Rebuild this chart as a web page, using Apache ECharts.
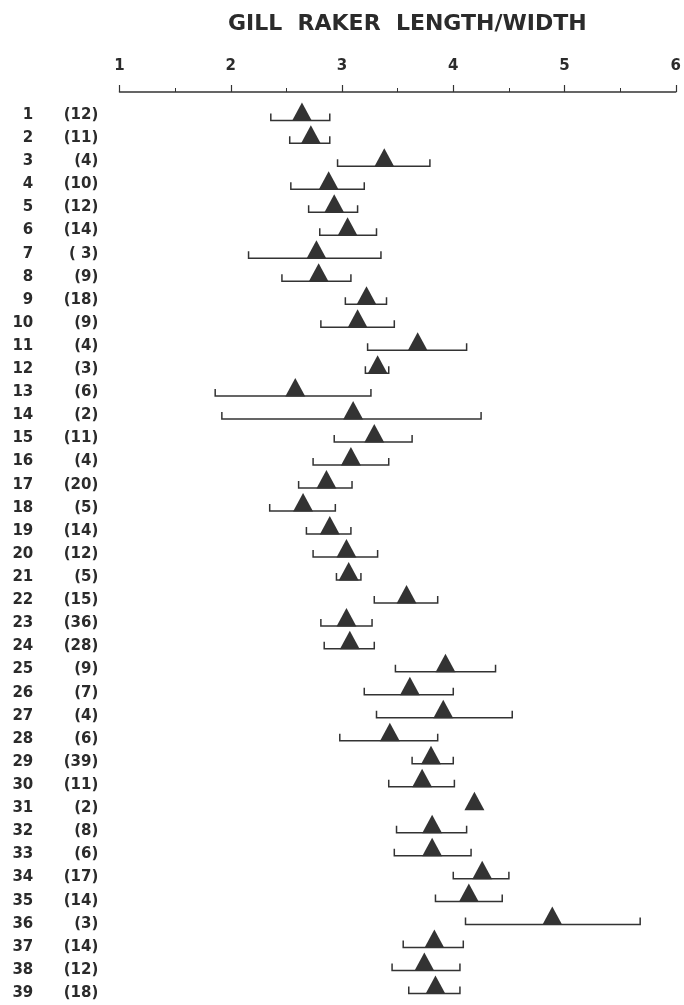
<!DOCTYPE html>
<html>
<head>
<meta charset="utf-8">
<script src="https://cdn.jsdelivr.net/npm/echarts@6/dist/echarts.min.js"></script>
<style>
  html, body { margin: 0; padding: 0; background: #ffffff; }
  #chart { width: 684px; height: 1005px; }
</style>
</head>
<body>
<div id="chart"></div>
<script>
// ---- data ----
var rowLabels = ['1','2','3','4','5','6','7','8','9','10','11','12','13','14','15','16','17','18','19','20',
  '21','22','23','24','25','26','27','28','29','30','31','32','33','34','35','36','37','38','39'];
var countLabels = ['(12)','(11)','(4)','(10)','(12)','(14)','( 3)','(9)','(18)','(9)','(4)','(3)','(6)','(2)','(11)','(4)','(20)','(5)','(14)','(12)',
  '(5)','(15)','(36)','(28)','(9)','(7)','(4)','(6)','(39)','(11)','(2)','(8)','(6)','(17)','(14)','(3)','(14)','(12)','(18)'];
var meanValues = [2.64,2.72,3.38,2.88,2.93,3.05,2.77,2.79,3.22,3.14,3.68,3.32,2.58,3.10,3.29,3.08,2.86,2.65,2.89,3.04,
  3.06,3.58,3.04,3.07,3.93,3.61,3.91,3.43,3.80,3.72,4.19,3.81,3.81,4.26,4.14,4.89,3.83,3.74,3.84];
var lowValues = [2.36,2.53,2.96,2.54,2.70,2.80,2.16,2.46,3.03,2.81,3.23,3.21,1.86,1.92,2.93,2.74,2.61,2.35,2.68,2.74,
  2.95,3.29,2.81,2.84,3.48,3.20,3.31,2.98,3.63,3.42,null,3.49,3.47,4.00,3.84,4.11,3.55,3.45,3.60];
var highValues = [2.89,2.89,3.79,3.20,3.14,3.31,3.35,3.08,3.40,3.47,4.12,3.42,3.26,4.25,3.63,3.42,3.09,2.94,3.08,3.32,
  3.17,3.86,3.27,3.29,4.38,4.00,4.53,3.86,4.00,4.01,null,4.12,4.16,4.50,4.44,5.68,4.09,4.06,4.06];
var xTicks = [1,2,3,4,5,6];
var titleText = 'GILL  RAKER  LENGTH/WIDTH';

var seriesData = meanValues.map(function (m, i) {
  return [m, i, lowValues[i] == null ? '-' : lowValues[i], highValues[i] == null ? '-' : highValues[i]];
});

var ink = '#2b2b2b';
var font = 'DejaVu Sans';

function renderItem(params, api) {
  var cat = api.value(1);
  var pm = api.coord([api.value(0), cat]);
  var lo = api.value(2), hi = api.value(3);
  var children = [];
  if (!isNaN(lo) && !isNaN(hi)) {
    var p1 = api.coord([lo, cat]);
    var p2 = api.coord([hi, cat]);
    children.push({
      type: 'polyline',
      shape: { points: [[p1[0], p1[1] - 7], [p1[0], p1[1]], [p2[0], p2[1]], [p2[0], p2[1] - 7]] },
      style: { stroke: '#333333', fill: null, lineWidth: 1.5 }
    });
  }
  children.push({
    type: 'polygon',
    shape: { points: [[pm[0] - 10, pm[1] + 0.5], [pm[0] + 10, pm[1] + 0.5], [pm[0], pm[1] - 18]] },
    style: { fill: '#333333' }
  });
  return { type: 'group', children: children };
}

var chart = echarts.init(document.getElementById('chart'), null, { renderer: 'canvas' });
chart.setOption({
  backgroundColor: '#ffffff',
  animation: false,
  title: {
    text: titleText,
    left: 223,
    top: 8,
    textStyle: { fontFamily: font, fontWeight: 'bold', fontSize: 22, color: ink }
  },
  grid: [
    { left: 119.5, right: 5.5, top: 108.9, height: 905.6, containLabel: false },
    { left: 119.5, width: 10, top: 103.4, height: 901.3, containLabel: false }
  ],
  xAxis: [
    {
      gridIndex: 0, type: 'value', position: 'top', offset: 16.9,
      min: xTicks[0], max: xTicks[xTicks.length - 1], interval: 1,
      axisLine: { show: true, lineStyle: { color: '#333333', width: 1.5 } },
      axisTick: { show: true, inside: false, length: 7, lineStyle: { color: '#333333', width: 1.2 } },
      minorTick: { show: true, splitNumber: 2, length: 4, lineStyle: { color: '#333333', width: 1 } },
      splitLine: { show: false },
      axisLabel: { margin: 18, fontFamily: font, fontWeight: 'bold', fontSize: 15, color: ink,
        formatter: function (v) { return xTicks.indexOf(v) >= 0 ? String(v) : ''; } }
    },
    { gridIndex: 1, type: 'value', show: false, min: 0, max: 1 }
  ],
  yAxis: [
    {
      gridIndex: 0, type: 'category', data: rowLabels, inverse: true, show: false
    },
    {
      gridIndex: 1, type: 'category', data: rowLabels, inverse: true, position: 'left', offset: 86.2,
      axisLine: { show: false }, axisTick: { show: false }, splitLine: { show: false },
      axisLabel: { interval: 0, margin: 0, fontFamily: font, fontWeight: 'bold', fontSize: 15, color: ink, align: 'right' }
    },
    {
      gridIndex: 1, type: 'category', data: countLabels, inverse: true, position: 'left', offset: 21.2,
      axisLine: { show: false }, axisTick: { show: false }, splitLine: { show: false },
      axisLabel: { interval: 0, margin: 0, fontFamily: font, fontWeight: 'bold', fontSize: 15, color: ink, align: 'right' }
    }
  ],
  series: [
    {
      type: 'custom',
      xAxisIndex: 0,
      yAxisIndex: 0,
      renderItem: renderItem,
      encode: { x: 0, y: 1 },
      data: seriesData,
      clip: false
    }
  ]
});
</script>
</body>
</html>
